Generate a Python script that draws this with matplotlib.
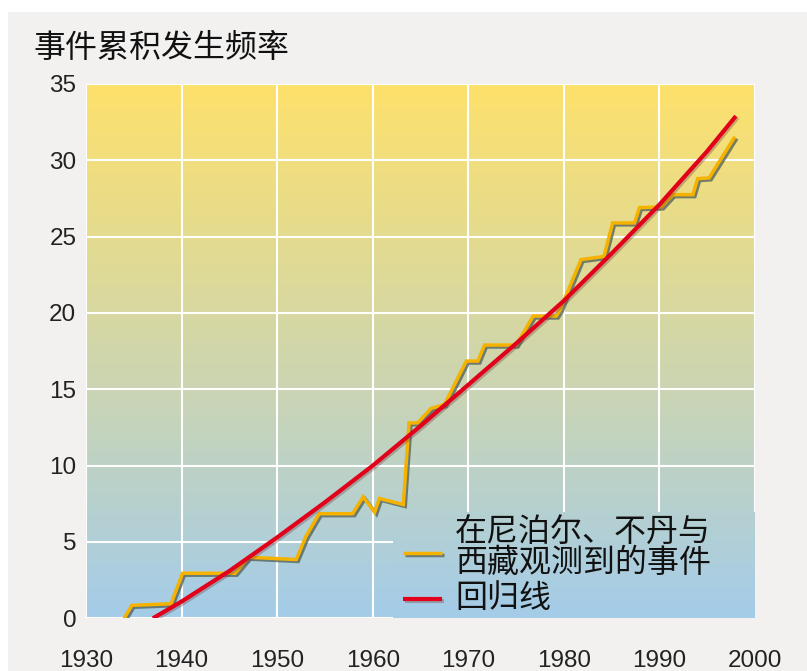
import numpy as np
import matplotlib
matplotlib.use("Agg")
import matplotlib.pyplot as plt
import matplotlib.patheffects as pe
from matplotlib.colors import to_rgb
from matplotlib.patches import Rectangle

plt.rcParams["font.family"] = ["Liberation Sans", "Noto Sans CJK SC", "DejaVu Sans"]

obs_years = [1934.0, 1934.8, 1938.9, 1940.1, 1945.6, 1947.0, 1952.0, 1953.0, 1954.4,
             1957.9, 1959.0, 1960.2, 1960.7, 1963.2, 1963.8, 1964.7, 1966.1, 1967.5,
             1969.8, 1971.0, 1971.7, 1975.0, 1976.8, 1979.2, 1979.6, 1981.8, 1984.2,
             1985.1, 1987.4, 1987.9, 1990.2, 1991.4, 1993.5, 1994.0, 1995.2, 1997.8]
obs_values = [0.0, 0.85, 0.95, 2.95, 2.95, 4.0, 3.85, 5.35, 6.85,
              6.85, 7.95, 6.95, 7.85, 7.45, 12.8, 12.8, 13.75, 14.0,
              16.85, 16.85, 17.9, 17.9, 19.8, 19.8, 20.2, 23.5, 23.7,
              25.9, 25.9, 26.9, 26.95, 27.75, 27.75, 28.8, 28.85, 31.45]

# regression curve
reg_years = [1937, 1940, 1945, 1950, 1955, 1960, 1965, 1970, 1975, 1980, 1985, 1990, 1995, 1998]
reg_values = [0.0, 1.1, 3.1, 5.3, 7.6, 10.0, 12.6, 15.3, 18.0, 20.8, 23.9, 27.1, 30.6, 32.9]

x_ticks = list(range(1930, 2001, 10))
y_ticks = list(range(0, 36, 5))

title = "事件累积发生频率"
label_obs = "在尼泊尔、不丹与\n西藏观测到的事件"
label_reg = "回归线"

cjk = ["Noto Sans CJK SC", "DejaVu Sans"]
top_col = "#fee16b"
bot_col = "#a4cce9"

fig = plt.figure(figsize=(8.07, 6.71), dpi=100, facecolor="white")
fig.patches.append(Rectangle((8 / 807, 0), 1, (671 - 12) / 671, transform=fig.transFigure,
                             facecolor="#f2f1f0", edgecolor="none", zorder=-10))
ax = fig.add_axes([86 / 807, (671 - 618.3) / 671, 669 / 807, 534.3 / 671])
ax.set_facecolor("none")

# gradient background
n = 256
t = np.linspace(0, 1, n)[:, None]
grad = (1 - t) * np.array(to_rgb(top_col)) + t * np.array(to_rgb(bot_col))
grad = grad[:, None, :]
ax.imshow(grad, extent=[1930, 2000, 0, 35], aspect="auto", zorder=0, interpolation="bilinear")

# legend area hides the grid
im2 = ax.imshow(grad, extent=[1930, 2000, 0, 35], aspect="auto", zorder=0.7, interpolation="bilinear")
clip = Rectangle((0.459, 0), 0.6, 0.199, transform=ax.transAxes)
im2.set_clip_path(clip)

ax.set_xlim(1930, 2000)
ax.set_ylim(0, 35)
ax.set_xticks(x_ticks)
ax.set_yticks(y_ticks)
ax.set_axisbelow(True)
ax.grid(True, color="white", linewidth=1.5)
ax.tick_params(length=0, labelsize=17.5, colors="#222222")
ax.tick_params(axis="x", pad=23)
ax.tick_params(axis="y", pad=7)
for s in ax.spines.values():
    s.set_visible(False)

shadow_o = [pe.SimpleLineShadow(offset=(1.4, -1.4), shadow_color="#56655f", alpha=0.8), pe.Normal()]
shadow_r = [pe.SimpleLineShadow(offset=(1.2, -1.2), shadow_color="#6a4040", alpha=0.35), pe.Normal()]

ax.plot(obs_years, obs_values, color="#f5b300", linewidth=2.5, zorder=3,
        solid_joinstyle="miter", path_effects=shadow_o)
ax.plot(reg_years, reg_values, color="#e2001a", linewidth=3.0, zorder=4,
        solid_capstyle="butt", path_effects=shadow_r)

# legend
ax.plot([0.4738, 0.532], [0.1222, 0.1222], transform=ax.transAxes, color="#f5b300",
        linewidth=2.5, zorder=5, solid_capstyle="butt", path_effects=shadow_o)
ax.plot([0.4738, 0.532], [0.0361, 0.0361], transform=ax.transAxes, color="#e2001a",
        linewidth=3.0, zorder=5, solid_capstyle="butt", path_effects=shadow_r)
ax.text(0.5516, 0.1316, label_obs, transform=ax.transAxes, fontsize=23, family=cjk,
        ha="left", va="center", linespacing=0.92, color="#111111", zorder=6)
ax.text(0.5516, 0.038, label_reg, transform=ax.transAxes, fontsize=23, family=cjk,
        ha="left", va="center", color="#111111", zorder=6)

fig.text(33 / 807, 1 - 48 / 671, title, fontsize=23, family=cjk, ha="left", va="center",
         color="#111111")

fig.savefig("out.png", dpi=100)
